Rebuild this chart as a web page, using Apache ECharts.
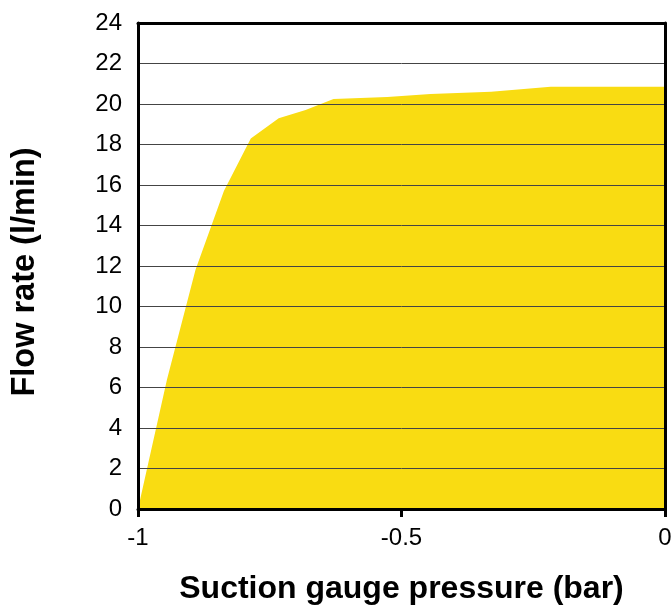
<!DOCTYPE html>
<html>
<head>
<meta charset="utf-8">
<script src="https://cdn.jsdelivr.net/npm/echarts@6/dist/echarts.min.js"></script>
<style>
html,body{margin:0;padding:0;background:#fff;}
#c{width:672px;height:607px;}
</style>
</head>
<body>
<div id="c"></div>
<script>
const pressure = [-1, -0.945, -0.891, -0.837, -0.786, -0.733, -0.682, -0.629, -0.527, -0.445, -0.33, -0.217, 0];
const flowRate = [0, 6.4, 11.8, 15.7, 18.3, 19.3, 19.7, 20.25, 20.35, 20.5, 20.6, 20.85, 20.85];
const xTitle = 'Suction gauge pressure (bar)';
const yTitle = 'Flow rate (l/min)';

const font = 'Liberation Sans, Arial, Helvetica, sans-serif';
const chart = echarts.init(document.getElementById('c'), null, {renderer: 'canvas'});
chart.setOption({
  animation: false,
  grid: {left: 138, right: 7, top: 23, bottom: 98, outerBoundsMode: 'none', containLabel: false},
  xAxis: [{
    type: 'value', min: -1, max: 0, interval: 0.5, z: 10,
    axisLine: {show: true, onZero: false, lineStyle: {color: '#000', width: 3}},
    axisTick: {show: true, length: 8, lineStyle: {color: '#000', width: 3}},
    axisLabel: {color: '#000', fontSize: 24, fontFamily: font, margin: 17,
      formatter: v => v === 0 ? '0' : String(v)},
    splitLine: {show: false},
    name: xTitle, nameLocation: 'middle', nameGap: 64,
    nameTextStyle: {color: '#000', fontSize: 32, fontWeight: 'bold', fontFamily: font}
  }, {
    type: 'value', min: -1, max: 0, position: 'top', z: 10,
    axisLine: {show: true, onZero: false, lineStyle: {color: '#000', width: 3}},
    axisTick: {show: false}, axisLabel: {show: false}, splitLine: {show: false}
  }],
  yAxis: [{
    type: 'value', min: 0, max: 24, interval: 2, z: 10,
    axisLine: {show: true, onZero: false, lineStyle: {color: '#000', width: 3}},
    axisTick: {show: false},
    axisLabel: {color: '#000', fontSize: 24, fontFamily: font, margin: 16},
    splitLine: {show: true, lineStyle: {color: '#444', width: 1}},
    name: yTitle, nameLocation: 'middle', nameGap: 96,
    nameTextStyle: {color: '#000', fontSize: 32.5, fontWeight: 'bold', fontFamily: font, padding: [0, 12, 0, 0]}
  }, {
    type: 'value', min: 0, max: 24, position: 'right', z: 10,
    axisLine: {show: true, onZero: false, lineStyle: {color: '#000', width: 3}},
    axisTick: {show: false}, axisLabel: {show: false}, splitLine: {show: false}
  }],
  series: [{
    type: 'line',
    data: pressure.map((p, i) => [p, flowRate[i]]),
    symbol: 'none',
    lineStyle: {width: 0},
    areaStyle: {color: '#F9DC12', opacity: 1},
    z: 2
  }]
});
</script>
</body>
</html>
